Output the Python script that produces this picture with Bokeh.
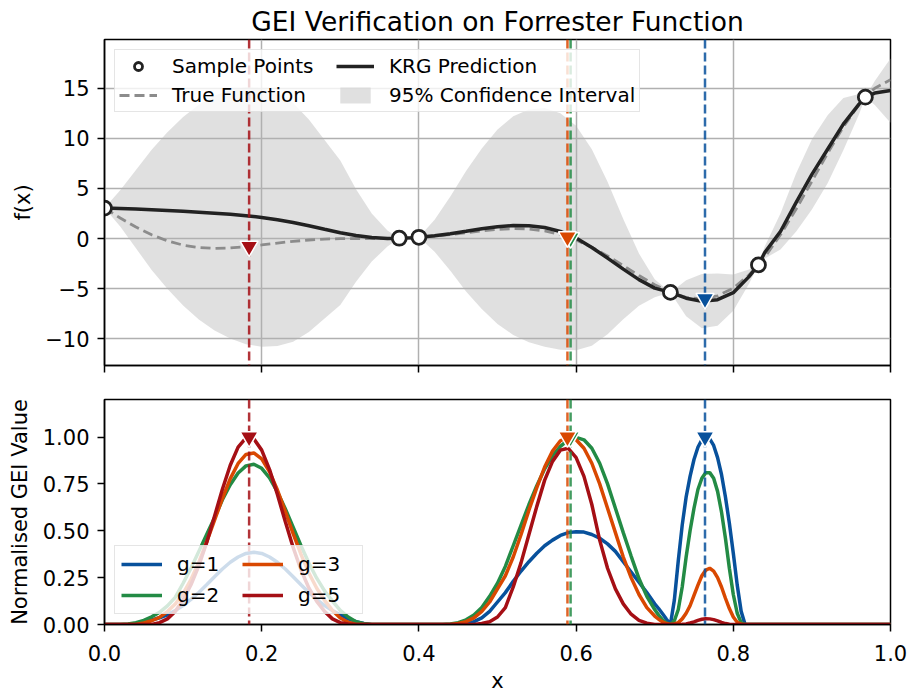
from bokeh.plotting import figure
from bokeh.models import (Range1d, FixedTicker, PrintfTickFormatter, Legend, LegendItem, Span,
                          CustomJSTickFormatter)
from bokeh.layouts import column
from bokeh.embed import file_html
from bokeh.resources import INLINE

FONT = "DejaVu Sans"

# ---------------- top panel data ----------------
x_top = [0.00, 0.02, 0.04, 0.06, 0.08, 0.10, 0.12, 0.14, 0.16, 0.18,
         0.20, 0.22, 0.24, 0.26, 0.28, 0.30, 0.32, 0.34, 0.36, 0.375,
         0.39, 0.40, 0.42, 0.44, 0.46, 0.48, 0.50, 0.52, 0.54, 0.56,
         0.58, 0.60, 0.62, 0.64, 0.66, 0.68, 0.70, 0.72, 0.74, 0.76,
         0.78, 0.80, 0.82, 0.832, 0.84, 0.86, 0.88, 0.90, 0.92, 0.94,
         0.96, 0.968, 0.98, 1.00]
true_f = [3.03, 2.05, 1.14, 0.37, -0.23, -0.66, -0.90, -0.99, -0.94, -0.82,
          -0.64, -0.45, -0.28, -0.15, -0.06, -0.02, 0.00, 0.00, 0.01, 0.03,
          0.07, 0.12, 0.23, 0.39, 0.58, 0.76, 0.91, 0.98, 0.95, 0.76,
          0.40, -0.15, -0.87, -1.73, -2.70, -3.69, -4.61, -5.37, -5.87, -6.02,
          -5.72, -4.95, -3.64, -2.63, -1.87, 0.37, 2.94, 5.71, 8.50, 11.12,
          13.36, 14.09, 14.99, 15.83]
krg_mean = [3.03, 3.00, 2.93, 2.86, 2.79, 2.72, 2.63, 2.53, 2.42, 2.27,
            2.10, 1.88, 1.60, 1.27, 0.92, 0.58, 0.30, 0.10, 0.01, 0.03,
            0.07, 0.12, 0.28, 0.48, 0.72, 0.98, 1.17, 1.29, 1.27, 1.10,
            0.70, 0.05, -0.90, -1.95, -3.05, -4.10, -4.95, -5.37, -5.95, -6.25,
            -6.10, -5.40, -3.80, -2.63, -1.40, 0.70, 3.60, 6.40, 8.90, 11.40,
            13.40, 14.09, 14.50, 14.75]
krg_ci_half = [0.0, 1.8, 3.9, 6.0, 7.8, 9.4, 10.7, 11.7, 12.4, 12.8,
               12.9, 12.6, 11.9, 10.6, 8.9, 7.2, 4.6, 2.4, 0.8, 0.0,
               0.2, 0.0, 1.6, 3.7, 6.0, 8.0, 9.7, 10.9, 11.6, 11.9,
               11.8, 11.2, 9.8, 7.6, 5.0, 2.6, 0.9, 0.0, 1.8, 2.7,
               2.6, 1.8, 0.7, 0.0, 0.6, 1.8, 2.9, 3.5, 3.4, 2.6,
               1.0, 0.0, 1.2, 3.2]
sample_x = [0.0, 0.375, 0.40, 0.72, 0.832, 0.968]
sample_y = [3.03, 0.03, 0.12, -5.37, -2.63, 14.09]

# ---------------- GEI data ----------------
groups = ["g=1", "g=2", "g=3", "g=5"]
colors = ["#08519c", "#238b45", "#d94801", "#a50f15"]
next_x = [0.764, 0.593, 0.589, 0.184]
next_f = [-6.00, 0.06, 0.15, -0.78]
next_gei = [1.0, 1.0, 1.0, 1.0]

x_gei = [0.00, 0.01, 0.02, 0.03, 0.04, 0.05, 0.06, 0.07, 0.08, 0.09,
         0.10, 0.11, 0.12, 0.13, 0.14, 0.15, 0.16, 0.17, 0.18, 0.19,
         0.20, 0.21, 0.22, 0.23, 0.24, 0.25, 0.26, 0.27, 0.28, 0.29,
         0.30, 0.31, 0.32, 0.33, 0.34, 0.35, 0.36, 0.37, 0.38, 0.39,
         0.40, 0.41, 0.42, 0.43, 0.44, 0.45, 0.46, 0.47, 0.48, 0.49,
         0.50, 0.51, 0.52, 0.53, 0.54, 0.55, 0.56, 0.57, 0.58, 0.59,
         0.60, 0.61, 0.62, 0.63, 0.64, 0.65, 0.66, 0.67, 0.68, 0.69,
         0.70,
         0.705, 0.71, 0.715, 0.72, 0.725, 0.73, 0.735, 0.74, 0.745, 0.75,
         0.755, 0.76, 0.765, 0.77, 0.775, 0.78, 0.785, 0.79, 0.795, 0.80,
         0.805, 0.81, 0.815, 0.82,
         1.00]
gei_g1 = [0, 0, 0, 0, 0.005, 0.015, 0.024, 0.036, 0.052, 0.074,
          0.101, 0.134, 0.171, 0.212, 0.255, 0.296, 0.332, 0.360, 0.379, 0.385,
          0.379, 0.360, 0.332, 0.296, 0.255, 0.212, 0.171, 0.134, 0.101, 0.074,
          0.052, 0.030, 0.015, 0.005, 0, 0, 0, 0, 0, 0,
          0, 0, 0, 0, 0, 0.0, 0.005, 0.015, 0.035, 0.07,
          0.12, 0.17, 0.23, 0.285, 0.335, 0.38, 0.42, 0.45, 0.475, 0.49,
          0.495, 0.493, 0.48, 0.46, 0.43, 0.39, 0.335, 0.28, 0.225, 0.17,
          0.11,
          0.085, 0.057, 0.028, 0.0, 0.13, 0.34, 0.53, 0.68, 0.79, 0.88,
          0.945, 0.985, 1.0, 0.99, 0.955, 0.89, 0.80, 0.68, 0.54, 0.38,
          0.21, 0.07, 0.0, 0.0,
          0.0]
gei_g2 = [0, 0, 0, 0.003, 0.010, 0.022, 0.041, 0.065, 0.099, 0.145,
          0.22, 0.30, 0.39, 0.48, 0.57, 0.665, 0.745, 0.808, 0.846, 0.855,
          0.833, 0.782, 0.707, 0.617, 0.519, 0.420, 0.328, 0.247, 0.179, 0.125,
          0.075, 0.040, 0.015, 0.004, 0, 0, 0, 0, 0, 0,
          0, 0, 0, 0, 0.003, 0.01, 0.025, 0.05, 0.09, 0.15,
          0.22, 0.31, 0.42, 0.53, 0.64, 0.74, 0.83, 0.90, 0.95, 0.985,
          0.998, 0.985, 0.94, 0.86, 0.75, 0.62, 0.49, 0.365, 0.245, 0.15,
          0.08,
          0.05, 0.025, 0.008, 0.0, 0.02, 0.08, 0.20, 0.36, 0.50, 0.62,
          0.72, 0.78, 0.81, 0.81, 0.78, 0.71, 0.60, 0.46, 0.30, 0.16,
          0.06, 0.01, 0.0, 0.0,
          0.0]
gei_g3 = [0, 0, 0, 0, 0, 0.008, 0.020, 0.038, 0.069, 0.109,
          0.165, 0.240, 0.332, 0.440, 0.556, 0.672, 0.778, 0.859, 0.907, 0.915,
          0.883, 0.814, 0.717, 0.603, 0.485, 0.374, 0.275, 0.193, 0.129, 0.075,
          0.035, 0.012, 0, 0, 0, 0, 0, 0, 0, 0,
          0, 0, 0, 0, 0, 0.005, 0.015, 0.035, 0.07, 0.12,
          0.19, 0.26, 0.36, 0.48, 0.61, 0.73, 0.84, 0.925, 0.98, 1.0,
          0.985, 0.94, 0.86, 0.75, 0.62, 0.49, 0.36, 0.25, 0.16, 0.09,
          0.045,
          0.028, 0.014, 0.005, 0.0, 0.003, 0.01, 0.03, 0.06, 0.10, 0.155,
          0.21, 0.26, 0.29, 0.30, 0.285, 0.25, 0.20, 0.14, 0.085, 0.04,
          0.012, 0.002, 0.0, 0.0,
          0.0]
gei_g5 = [0, 0, 0, 0, 0, 0, 0, 0.010, 0.030, 0.070,
          0.130, 0.212, 0.313, 0.437, 0.578, 0.721, 0.849, 0.946, 0.995, 0.990,
          0.930, 0.826, 0.693, 0.549, 0.411, 0.291, 0.195, 0.123, 0.070, 0.030,
          0.010, 0.003, 0, 0, 0, 0, 0, 0, 0, 0,
          0, 0, 0, 0, 0, 0, 0, 0, 0.005, 0.015,
          0.04, 0.09, 0.20, 0.33, 0.48, 0.63, 0.77, 0.87, 0.93, 0.94,
          0.89, 0.79, 0.64, 0.45, 0.30, 0.19, 0.11, 0.055, 0.022, 0.007,
          0.0,
          0.0, 0.0, 0.0, 0.0, 0.0, 0.0, 0.001, 0.003, 0.008, 0.014,
          0.022, 0.028, 0.031, 0.030, 0.026, 0.019, 0.011, 0.005, 0.001, 0.0,
          0.0, 0.0, 0.0, 0.0,
          0.0]
gei_series = [gei_g1, gei_g2, gei_g3, gei_g5]
for s in gei_series:
    assert len(s) == len(x_gei), (len(s), len(x_gei))
for s in (true_f, krg_mean, krg_ci_half):
    assert len(s) == len(x_top)

# y-limits of the two panels (axis setup)
TOP_Y = (-12.66, 19.84)
BOT_Y = (0.0, 1.2)
xr = Range1d(0, 1)


def style(p):
    for ax in p.axis:
        ax.axis_line_color = "black"
        ax.axis_line_width = 1.5
        ax.major_tick_line_color = "black"
        ax.major_tick_line_width = 1.5
        ax.major_tick_out = 7
        ax.major_tick_in = 0
        ax.minor_tick_line_color = None
        ax.major_label_text_font = FONT
        ax.major_label_text_font_size = "21px"
        ax.major_label_text_color = "black"
        ax.major_label_standoff = 8
        ax.axis_label_text_font = FONT
        ax.axis_label_text_font_size = "21px"
        ax.axis_label_text_font_style = "normal"
        ax.axis_label_text_color = "black"
        ax.axis_label_standoff = 8
    p.outline_line_color = "black"
    p.outline_line_width = 1.5
    p.outline_line_alpha = 1.0
    p.background_fill_color = "white"
    p.border_fill_color = "white"


def style_legend(leg, spacing, label_width, glyph_width, padding):
    leg.label_text_font = FONT
    leg.label_text_font_size = "20px"
    leg.label_text_color = "black"
    leg.glyph_width = glyph_width
    leg.glyph_height = 20
    leg.label_standoff = 15
    leg.label_width = label_width
    leg.spacing = spacing
    leg.padding = padding
    leg.margin = 10
    leg.border_line_color = "#cccccc"
    leg.border_line_width = 1.5
    leg.background_fill_color = "white"
    leg.background_fill_alpha = 0.8
    leg.ncols = 2


# ---------------- top figure ----------------
p1 = figure(frame_width=786, frame_height=326, x_range=xr, y_range=Range1d(*TOP_Y),
            output_backend="svg", toolbar_location=None,
            min_border_left=104, min_border_right=19, min_border_top=39, min_border_bottom=15,
            title="GEI Verification on Forrester Function")
style(p1)
p1.title.align = "center"
p1.title.text_font = FONT
p1.title.text_font_size = "26.5px"
p1.title.text_font_style = "normal"
p1.title.text_color = "black"
p1.title.standoff = 6
p1.xaxis.ticker = FixedTicker(ticks=[0.0, 0.2, 0.4, 0.6, 0.8, 1.0])
p1.xaxis.formatter = CustomJSTickFormatter(code="return ''")
p1.xaxis.major_label_text_font_size = "1px"
p1.xaxis.major_label_standoff = 0
p1.yaxis.ticker = FixedTicker(ticks=[-10, -5, 0, 5, 10, 15])
p1.yaxis.major_label_overrides = {-10: "\u221210", -5: "\u22125"}
p1.yaxis.axis_label = "f(x)"
p1.yaxis.axis_label_standoff = 7
p1.grid.grid_line_color = "#b0b0b0"
p1.grid.grid_line_width = 1.5

lower = [m - h for m, h in zip(krg_mean, krg_ci_half)]
upper = [m + h for m, h in zip(krg_mean, krg_ci_half)]
r_band = p1.varea(x=x_top, y1=lower, y2=upper, fill_color="#d3d3d3", fill_alpha=0.7, level="underlay")
r_true = p1.line(x_top, true_f, line_color="#8c8c8c", line_width=2.8, line_dash="10 5")
r_krg = p1.line(x_top, krg_mean, line_color="#222222", line_width=3.5)
r_samp = p1.scatter(sample_x, sample_y, marker="circle", size=14, fill_color="white",
                    line_color="#222222", line_width=2.8)
for xv, c in zip(next_x, colors):
    p1.add_layout(Span(location=xv, dimension="height", line_color=c, line_width=2.5,
                       line_alpha=0.85, line_dash="9 4"))
p1.scatter(next_x, next_f, marker="inverted_triangle", size=18, fill_color=colors,
           line_color="white", line_width=1.5, level="overlay")

leg1 = Legend(items=[LegendItem(label="Sample Points", renderers=[r_samp]),
                     LegendItem(label="True Function", renderers=[r_true]),
                     LegendItem(label="KRG Prediction", renderers=[r_krg]),
                     LegendItem(label="95% Confidence Interval", renderers=[r_band])],
              location="top_left")
style_legend(leg1, spacing=5, label_width=159, glyph_width=38, padding=4)
p1.add_layout(leg1)

# ---------------- bottom figure ----------------
p2 = figure(frame_width=786, frame_height=225, x_range=xr, y_range=Range1d(*BOT_Y),
            output_backend="svg", toolbar_location=None,
            min_border_left=104, min_border_right=19, min_border_top=19, min_border_bottom=69)
style(p2)
p2.grid.visible = False
p2.xaxis.ticker = FixedTicker(ticks=[0.0, 0.2, 0.4, 0.6, 0.8, 1.0])
p2.xaxis.formatter = PrintfTickFormatter(format="%.1f")
p2.xaxis.major_label_standoff = 13
p2.yaxis.ticker = FixedTicker(ticks=[0.0, 0.25, 0.5, 0.75, 1.0])
p2.yaxis.formatter = PrintfTickFormatter(format="%.2f")
p2.xaxis.axis_label = "x"
p2.xaxis.axis_label_standoff = 5
p2.yaxis.axis_label = "Normalised GEI Value"
p2.yaxis.axis_label_standoff = 8

items2 = []
for g, c, s in zip(groups, colors, gei_series):
    r = p2.line(x_gei, s, line_color=c, line_width=3.5)
    items2.append(LegendItem(label=g, renderers=[r]))
for xv, c in zip(next_x, colors):
    p2.add_layout(Span(location=xv, dimension="height", line_color=c, line_width=2.5,
                       line_alpha=0.85, line_dash="9 4"))
p2.scatter(next_x, next_gei, marker="inverted_triangle", size=18, fill_color=colors,
           line_color="white", line_width=1.5, level="overlay")

leg2 = Legend(items=items2, location="bottom_left")
style_legend(leg2, spacing=7, label_width=58, glyph_width=41, padding=6)
p2.add_layout(leg2)

layout = column(p1, p2, spacing=0)
open("out.html", "w").write(file_html(layout, INLINE))
